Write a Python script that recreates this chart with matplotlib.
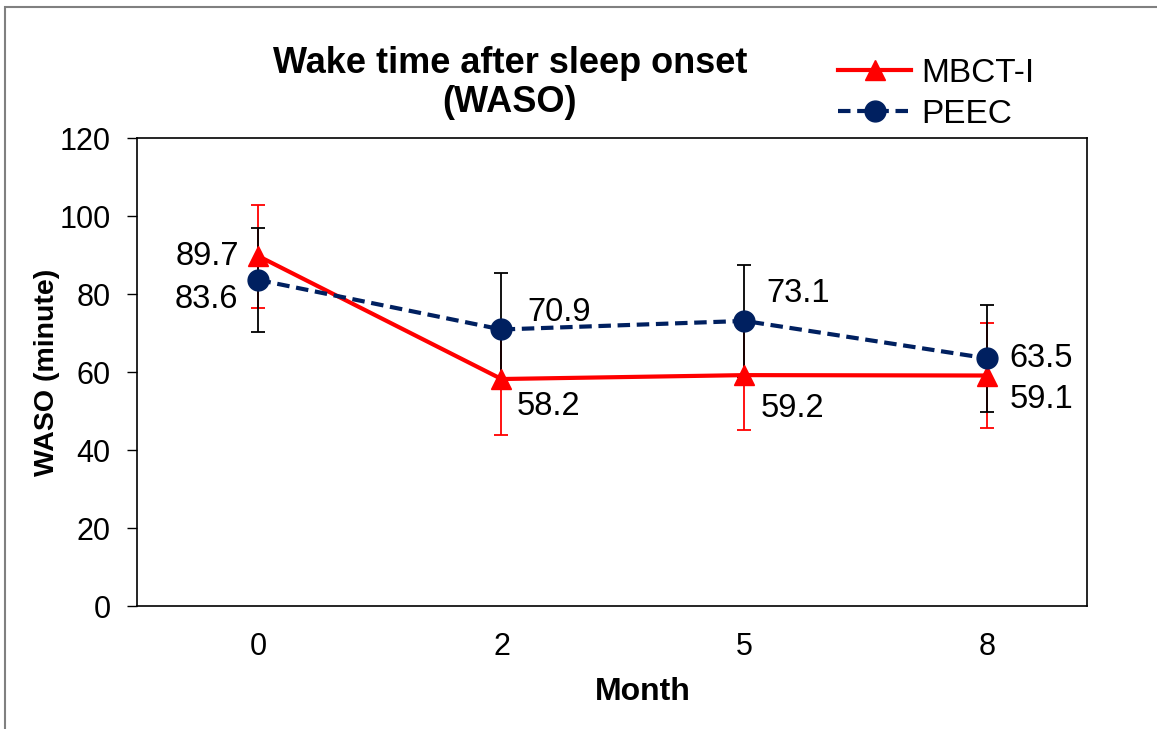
import matplotlib.pyplot as plt
from matplotlib.patches import Rectangle

plt.rcParams['font.family'] = ['Liberation Sans', 'DejaVu Sans']

# data
months = ['0', '2', '5', '8']
mbct = [89.7, 58.2, 59.2, 59.1]
mbct_err = [13.2, 14.4, 14.1, 13.5]
peec = [83.6, 70.9, 73.1, 63.5]
peec_err = [13.4, 14.5, 14.3, 13.8]

# label offsets in points (dx, dy, ha)
mbct_lbl = [(-14, 0, 'right'), (11, -20, 'left'), (12, -24, 'left'), (16, -17, 'left')]
peec_lbl = [(-15, -14, 'right'), (19, 12, 'left'), (16, 20, 'left'), (16, 0, 'left')]

navy = '#002060'
red = '#ff0000'

fig = plt.figure(figsize=(11.57, 7.29), dpi=100)
ax = fig.add_axes([137 / 1157, 1 - 606 / 729, 950 / 1157, 468 / 729])

x = list(range(len(months)))

ax.errorbar(x, mbct, yerr=mbct_err, fmt='none', ecolor=red, elinewidth=1.3,
            capsize=5, capthick=1.3, zorder=2)
ax.errorbar(x, peec, yerr=peec_err, fmt='none', ecolor='black', elinewidth=1.3,
            capsize=5, capthick=1.3, zorder=2.5)
ax.plot(x, mbct, color=red, lw=3, marker='^', markersize=15, label='MBCT-I', zorder=3)
ax.plot(x, peec, color=navy, lw=3, ls=(0, (3, 1.6)), marker='o', markersize=15,
        label='PEEC', zorder=4)

for xi, v, (dx, dy, ha) in zip(x, mbct, mbct_lbl):
    ax.annotate(f'{v:.1f}', (xi, v), xytext=(dx, dy), textcoords='offset points',
                ha=ha, va='center', fontsize=23.5)
for xi, v, (dx, dy, ha) in zip(x, peec, peec_lbl):
    ax.annotate(f'{v:.1f}', (xi, v), xytext=(dx, dy), textcoords='offset points',
                ha=ha, va='center', fontsize=23.5)

ax.set_xlim(-0.5, 3.41)
ax.set_ylim(0, 120)
ax.set_yticks(range(0, 121, 20))
ax.set_xticks(x)
ax.set_xticklabels(months)
ax.tick_params(axis='y', direction='out', length=7, width=1, labelsize=22, pad=12)
ax.tick_params(axis='x', length=0, labelsize=22, pad=19)
for s in ax.spines.values():
    s.set_linewidth(1.2)

ax.set_ylabel('WASO (minute)', fontsize=20.5, fontweight='bold')
ax.yaxis.set_label_coords(-(137 - 47) / 950, 0.5)
ax.set_xlabel('Month', fontsize=23, fontweight='bold')
ax.xaxis.set_label_coords((643 - 137) / 950, -(692 - 606) / 468)
ax.xaxis.label.set_va('center')
ax.yaxis.label.set_va('center')

fig.text(510 / 1157, 1 - 83 / 729, 'Wake time after sleep onset\n(WASO)', ha='center',
         va='center', fontsize=26, fontweight='bold', linespacing=1.18)

fig.legend(loc='upper left', bbox_to_anchor=(838 / 1157, 1 - 58 / 729), frameon=False,
           fontsize=24, handlelength=2.2, handletextpad=0.3, labelspacing=0.3,
           borderpad=0, borderaxespad=0)

# outer chart border (gray), only left and top edges visible in the original
fig.patches.append(Rectangle((5 / 1157, -0.05), 1.2, 1.05 - 7 / 729, transform=fig.transFigure,
                             fill=False, edgecolor='#808080', lw=1.5))

fig.savefig('out.png', dpi=100)
